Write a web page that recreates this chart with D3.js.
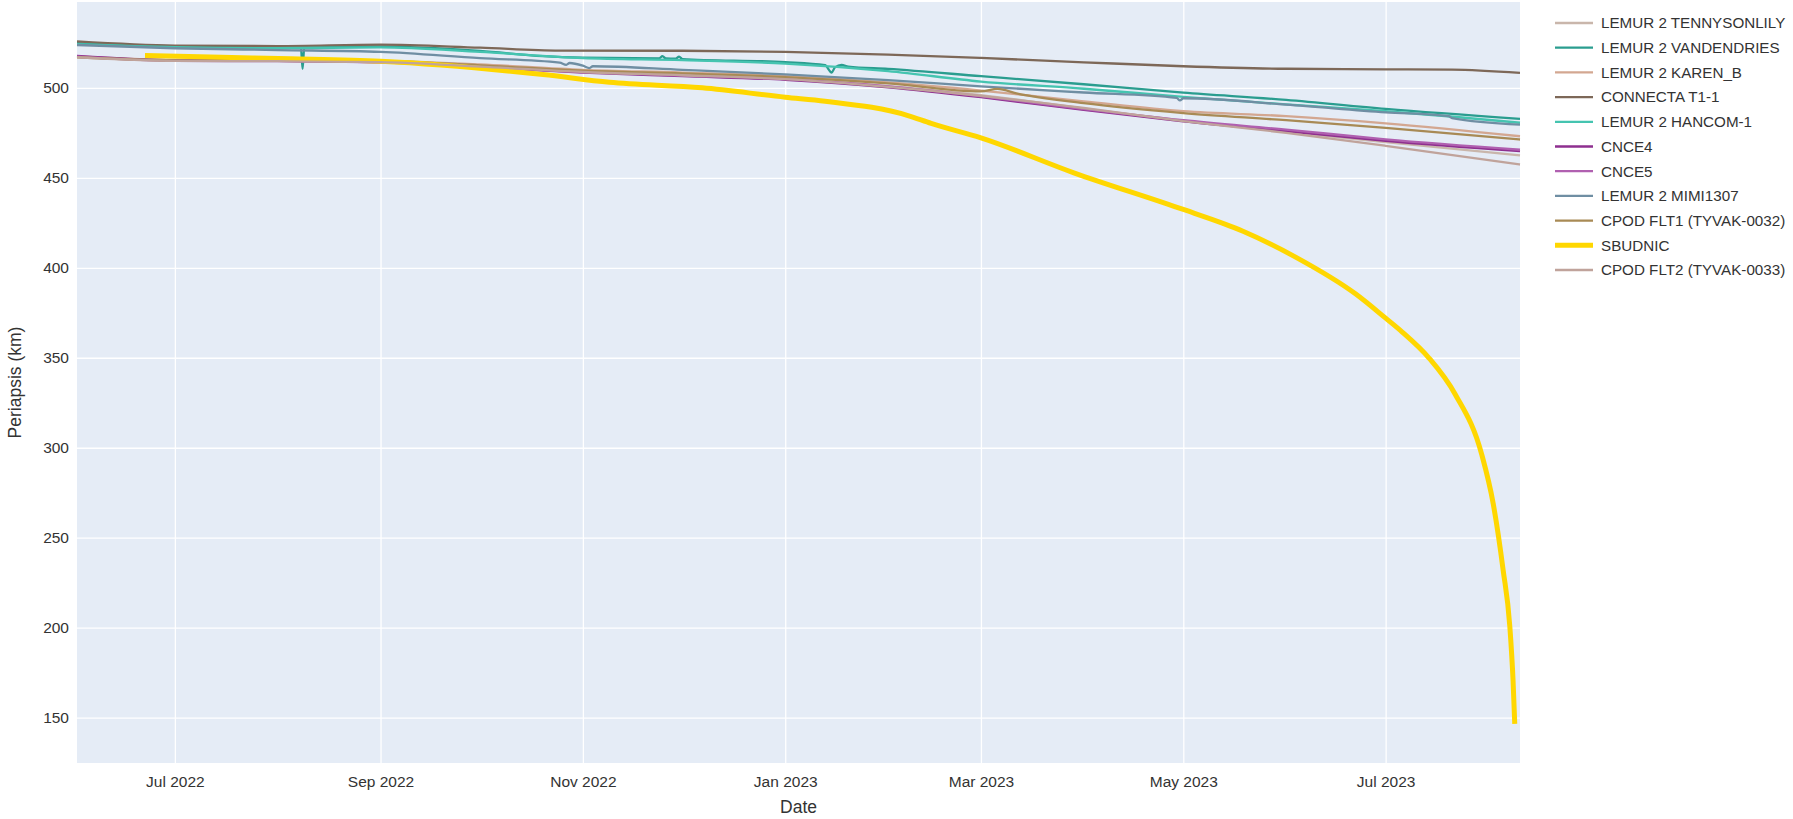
<!DOCTYPE html>
<html>
<head>
<meta charset="utf-8">
<title>Periapsis</title>
<script src="https://cdn.jsdelivr.net/npm/d3@7"></script>
<style>
  html, body { margin: 0; padding: 0; background: #fff; }
  #chart { width: 1793px; height: 819px; }
  #chart text { font-family: "Liberation Sans", Arial, Helvetica, sans-serif; fill: #333; }
</style>
</head>
<body>
<div id="chart"></div>
<script>
// Legend order = draw order
const seriesNames = [
  'LEMUR 2 TENNYSONLILY', 'LEMUR 2 VANDENDRIES', 'LEMUR 2 KAREN_B', 'CONNECTA T1-1',
  'LEMUR 2 HANCOM-1', 'CNCE4', 'CNCE5', 'LEMUR 2 MIMI1307',
  'CPOD FLT1 (TYVAK-0032)', 'SBUDNIC', 'CPOD FLT2 (TYVAK-0033)'
];
const seriesColors = [
  '#c9b6ab', '#2a9d8f', '#d3a791', '#7d6858',
  '#45c4b0', '#8e2f8f', '#b060b0', '#6f8ea3',
  '#a88a55', '#ffd700', '#c0a39b'
];

// [date, periapsis km]
const tennysonlily = [['2022-06-01T12:00', 517.2], ['2022-07-01', 515.2], ['2022-08-01', 515], ['2022-09-01', 514.5], ['2022-10-01', 512], ['2022-11-01', 509], ['2022-12-01', 507.3], ['2023-01-01', 505], ['2023-02-01', 501], ['2023-03-01', 496], ['2023-04-01', 488.5], ['2023-05-01', 481.8], ['2023-06-01', 475.5], ['2023-07-01', 469.8], ['2023-08-10T12:00', 462.5]];
const vandendries = [['2022-06-01T12:00', 524.8], ['2022-07-01', 523], ['2022-08-01', 522.5], ['2022-08-08', 522.6], ['2022-08-08T12:00', 510.5], ['2022-08-09', 522.4], ['2022-09-01', 523], ['2022-10-01', 520.5], ['2022-10-20', 517.6], ['2022-11-01', 516.8], ['2022-11-24', 516.4], ['2022-11-25', 517.6], ['2022-11-26', 516.3], ['2022-11-29', 516.2], ['2022-11-30', 517.3], ['2022-12-01', 516], ['2023-01-01', 514.3], ['2023-01-13', 512.6], ['2023-01-15', 508.5], ['2023-01-16', 511.4], ['2023-01-18', 512.7], ['2023-01-20', 511.8], ['2023-02-01', 510.5], ['2023-03-01', 506.5], ['2023-04-01', 502], ['2023-05-01', 497.3], ['2023-06-01', 493.3], ['2023-07-01', 488.3], ['2023-08-10T12:00', 482.8]];
const karenB = [['2022-06-01T12:00', 517.5], ['2022-07-01', 515.5], ['2022-08-01', 515.3], ['2022-09-01', 515], ['2022-10-01', 513], ['2022-11-01', 510], ['2022-12-01', 508.5], ['2023-01-01', 506.5], ['2023-02-01', 503], ['2023-03-01', 498.5], ['2023-04-01', 492.5], ['2023-05-01', 487], ['2023-06-01', 484.3], ['2023-07-01', 480.3], ['2023-08-10T12:00', 473.1]];
const connecta = [['2022-06-01T12:00', 525.8], ['2022-07-01', 523.5], ['2022-08-01', 523.2], ['2022-09-01', 524], ['2022-10-01', 522.3], ['2022-10-25', 520.7], ['2022-12-01', 520.6], ['2023-01-01', 520], ['2023-02-01', 518.5], ['2023-03-01', 516.6], ['2023-04-01', 514.2], ['2023-05-01', 512], ['2023-06-01', 510.6], ['2023-07-01', 510.3], ['2023-07-21', 510.1], ['2023-08-10T12:00', 508.3]];
const hancom = [['2022-06-01T12:00', 524.3], ['2022-07-01', 522.6], ['2022-08-01', 522], ['2022-09-01', 522.5], ['2022-10-01', 520], ['2022-11-01', 516.5], ['2022-12-01', 515.4], ['2023-01-01', 513.5], ['2023-02-01', 509.3], ['2023-03-01', 503.5], ['2023-04-01', 499.5], ['2023-05-01', 495], ['2023-06-01', 490.8], ['2023-07-01', 487], ['2023-08-10T12:00', 480.6]];
const cnce4 = [['2022-06-01T12:00', 517.8], ['2022-07-01', 515.3], ['2022-08-01', 515], ['2022-09-01', 514.3], ['2022-10-01', 511.5], ['2022-11-01', 508.5], ['2022-12-01', 506.5], ['2023-01-01', 504.5], ['2023-02-01', 500.3], ['2023-03-01', 494.8], ['2023-04-01', 487.7], ['2023-05-01', 481.4], ['2023-06-01', 476], ['2023-07-01', 470.6], ['2023-08-10T12:00', 464.8]];
const cnce5 = [['2022-06-01T12:00', 517.3], ['2022-07-01', 515], ['2022-08-01', 514.8], ['2022-09-01', 514.2], ['2022-10-01', 511.6], ['2022-11-01', 508.7], ['2022-12-01', 506.8], ['2023-01-01', 504.8], ['2023-02-01', 500.8], ['2023-03-01', 495.3], ['2023-04-01', 488.2], ['2023-05-01', 482], ['2023-06-01', 476.8], ['2023-07-01', 471.4], ['2023-08-10T12:00', 465.6]];
const mimi1307 = [['2022-06-01T12:00', 523.8], ['2022-07-01', 522], ['2022-08-01', 521], ['2022-09-01', 520], ['2022-10-01', 516.5], ['2022-10-25', 514], ['2022-10-27', 512.8], ['2022-10-28', 513.8], ['2022-11-01', 512.3], ['2022-11-03', 511], ['2022-11-04', 512], ['2022-12-01', 510], ['2023-01-01', 507.5], ['2023-02-01', 504.3], ['2023-03-01', 500.8], ['2023-04-01', 497.4], ['2023-04-29', 494.4], ['2023-04-30', 493], ['2023-05-01', 494.2], ['2023-06-01', 490.7], ['2023-07-01', 486.4], ['2023-07-20', 484.3], ['2023-07-21', 483.2], ['2023-08-10T12:00', 479.6]];
const cpodFlt1 = [['2022-06-01T12:00', 517], ['2022-07-01', 515.3], ['2022-08-01', 515.1], ['2022-09-01', 514.8], ['2022-10-01', 512.5], ['2022-11-01', 509.5], ['2022-12-01', 508], ['2023-01-01', 506], ['2023-02-01', 502.5], ['2023-03-01', 498], ['2023-03-06', 499.4], ['2023-03-12', 496.8], ['2023-04-01', 491.5], ['2023-05-01', 486], ['2023-06-01', 482], ['2023-07-01', 477.7], ['2023-08-10T12:00', 471.3]];
const sbudnic = [['2022-06-22', 518], ['2022-07-15', 517], ['2022-08-05', 516.2], ['2022-09-01', 514.8], ['2022-10-20', 507.4], ['2022-11-09', 503.1], ['2022-12-07', 500], ['2023-01-01', 494.8], ['2023-01-13', 492.6], ['2023-02-07', 484.6], ['2023-02-14', 480.2], ['2023-03-01', 472.2], ['2023-03-29', 452.8], ['2023-05-01', 432.4], ['2023-05-19', 420.3], ['2023-06-04', 405.8], ['2023-06-22', 385.4], ['2023-07-01', 372], ['2023-07-06', 364.3], ['2023-07-14', 350], ['2023-07-22', 329.6], ['2023-07-30', 296], ['2023-08-02T10:00', 269], ['2023-08-05T10:00', 232], ['2023-08-07T10:00', 201], ['2023-08-08T10:00', 170.2], ['2023-08-08T22:00', 146.5]];
const cpodFlt2 = [['2022-06-01T12:00', 517], ['2022-07-01', 515], ['2022-08-01', 514.8], ['2022-09-01', 514.3], ['2022-10-01', 511.8], ['2022-11-01', 508.8], ['2022-12-01', 507], ['2023-01-01', 504.8], ['2023-02-01', 500.5], ['2023-03-01', 495.5], ['2023-04-01', 488.8], ['2023-05-01', 481.5], ['2023-06-01', 475], ['2023-07-01', 467.8], ['2023-08-10T12:00', 457.4]];

const seriesValues = [tennysonlily, vandendries, karenB, connecta, hancom, cnce4, cnce5, mimi1307, cpodFlt1, sbudnic, cpodFlt2];

const yTickValues = [150, 200, 250, 300, 350, 400, 450, 500];
const yRange = [124.8, 547.7];
const xTickDates = ['2022-07-01', '2022-09-01', '2022-11-01', '2023-01-01', '2023-03-01', '2023-05-01', '2023-07-01'];
const xTickLabels = ['Jul 2022', 'Sep 2022', 'Nov 2022', 'Jan 2023', 'Mar 2023', 'May 2023', 'Jul 2023'];

const width = 1793;
const height = 819;
const margin = { top: 2, right: 273, bottom: 56, left: 77 };
const chartWidth = width - margin.left - margin.right;
const chartHeight = height - margin.top - margin.bottom;

// all dates as local time
const parseDate = s => new Date(s.length === 10 ? s + 'T00:00' : s);

const series = seriesNames.map((name, i) => ({
  name,
  color: seriesColors[i],
  points: seriesValues[i].map(([d, v]) => ({ date: parseDate(d), value: v }))
}));

const svg = d3.select('#chart')
  .append('svg')
  .attr('width', width)
  .attr('height', height)
  .attr('viewBox', `0 0 ${width} ${height}`);

const chartGroup = svg.append('g')
  .attr('transform', `translate(${margin.left}, ${margin.top})`);

const xScale = d3.scaleTime()
  .domain(d3.extent(series.flatMap(s => s.points), d => d.date))
  .range([0, chartWidth]);

const yScale = d3.scaleLinear()
  .domain(yRange)
  .range([chartHeight, 0]);

// Plot background
chartGroup.append('rect')
  .attr('width', chartWidth)
  .attr('height', chartHeight)
  .attr('fill', '#e5ecf6');

// Grid + tick labels
const yAxis = chartGroup.append('g')
  .attr('class', 'y-axis')
  .call(d3.axisLeft(yScale)
    .tickValues(yTickValues)
    .tickSize(-chartWidth)
    .tickPadding(8)
    .tickFormat(d3.format('d')));

const xAxis = chartGroup.append('g')
  .attr('class', 'x-axis')
  .attr('transform', `translate(0, ${chartHeight})`)
  .call(d3.axisBottom(xScale)
    .tickValues(xTickDates.map(parseDate))
    .tickSize(chartHeight)
    .tickPadding(0)
    .tickFormat((d, i) => xTickLabels[i]));

xAxis.selectAll('.tick line')
  .attr('y1', 0)
  .attr('y2', -chartHeight);
xAxis.selectAll('.tick text')
  .attr('y', 0)
  .attr('dy', '24px');

[xAxis, yAxis].forEach(axis => {
  axis.select('.domain').remove();
  axis.selectAll('.tick line').attr('stroke', '#fff').attr('stroke-width', 1.3);
  axis.selectAll('.tick text')
    .attr('font-size', '15.5px')
    .attr('fill', '#333')
    .style('font-family', '"Liberation Sans", Arial, sans-serif');
});

// Lines
const line = d3.line()
  .x(d => xScale(d.date))
  .y(d => yScale(d.value))
  .curve(d3.curveMonotoneX);

chartGroup.append('g')
  .attr('class', 'lines')
  .selectAll('.series')
  .data(series)
  .enter()
  .append('path')
  .attr('class', 'series')
  .attr('fill', 'none')
  .attr('stroke', d => d.color)
  .attr('stroke-width', d => d.name === 'SBUDNIC' ? 5 : 2.3)
  .attr('stroke-linejoin', 'round')
  .attr('d', d => line(d.points));

// Axis titles
svg.append('text')
  .attr('x', margin.left + chartWidth / 2)
  .attr('y', 813)
  .attr('text-anchor', 'middle')
  .attr('font-size', '17.5px')
  .text('Date');

svg.append('text')
  .attr('transform', `translate(15, ${margin.top + chartHeight / 2}) rotate(-90)`)
  .attr('text-anchor', 'middle')
  .attr('dy', '0.35em')
  .attr('font-size', '17.5px')
  .text('Periapsis (km)');

// Legend
const legend = svg.append('g')
  .attr('class', 'legend')
  .attr('transform', 'translate(1555, 23)');

const legendItems = legend.selectAll('.legend-item')
  .data(series)
  .enter()
  .append('g')
  .attr('class', 'legend-item')
  .attr('transform', (d, i) => `translate(0, ${i * 24.7})`);

legendItems.append('line')
  .attr('x1', 0)
  .attr('x2', 38)
  .attr('stroke', d => d.color)
  .attr('stroke-width', d => d.name === 'SBUDNIC' ? 5 : 2.3);

legendItems.append('text')
  .attr('x', 46)
  .attr('dy', '0.35em')
  .attr('font-size', '15.2px')
  .text(d => d.name);
</script>
</body>
</html>
